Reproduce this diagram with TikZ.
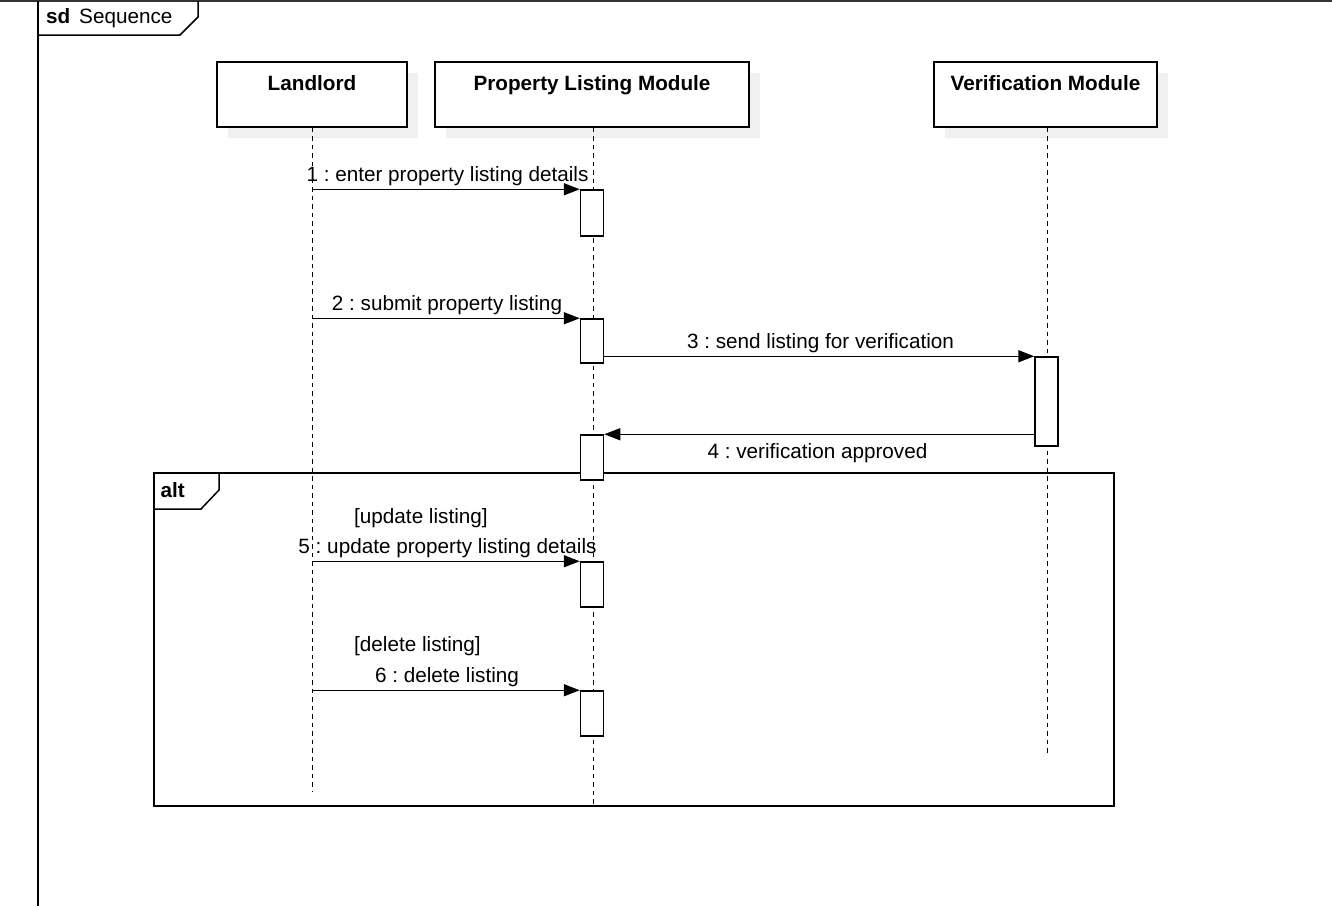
\documentclass[tikz,border=0pt]{standalone}
\usepackage{fontspec}
\setmainfont{Liberation Sans}
\usetikzlibrary{arrows.meta,shadows}
\begin{document}
\frenchspacing
\begin{tikzpicture}[x=1pt,y=-1pt,
  every node/.style={font=\fontsize{20.7}{24}\selectfont\frenchspacing},
  lifebox/.style={draw, fill=white, line width=1.5pt, inner sep=0pt, minimum height=65pt,
    drop shadow={shadow xshift=11pt, shadow yshift=-11pt, fill=black!6, opacity=1}},
  title/.style={anchor=base, inner sep=0pt, font=\fontsize{20.7}{24}\selectfont\bfseries},
  life/.style={line width=1pt, dash pattern=on 4.5pt off 4pt},
  act/.style={draw, fill=white, line width=1.5pt, inner sep=0pt, minimum width=23pt},
  msg/.style={line width=1.5pt, -{Triangle[length=16pt,width=12pt]}},
  lbl/.style={anchor=base, inner sep=0pt},
  frame/.style={line width=1.5pt}
]
\useasboundingbox (0,0) rectangle (1332,906);

% outer sd frame
\draw[line width=2pt, black!80] (0,1) -- (1332,1);
\draw[frame] (38,906) -- (38,1);
\draw[frame] (38,35) -- (180,35) -- (198,17) -- (198,1);
\node[anchor=base west, inner sep=0pt, font=\fontsize{20.7}{24}\selectfont\bfseries] (sdk) at (46,23.3) {sd};
\node[anchor=base west, inner sep=0pt] (sdn) at (79,23.3) {Sequence};

% lifeline heads
\node[lifebox, minimum width=190pt] (ll) at (312,94.5) {};
\node[lifebox, minimum width=314pt] (plm) at (592,94.5) {};
\node[lifebox, minimum width=223pt] (vm) at (1045.5,94.5) {};
\node[title] (llt) at (312,90.7) {Landlord};
\node[title] (plmt) at (592,90.7) {Property Listing Module};
\node[title] (vmt) at (1045.5,90.7) {Verification Module};

% alt frame
\node[draw, line width=1.5pt, inner sep=0pt, minimum width=960pt, minimum height=333pt, anchor=north west] (alt) at (153,472) {};
\draw[frame] (153,509) -- (201,509) -- (219,490) -- (219,472);
\node[anchor=base west, inner sep=0pt, font=\fontsize{20.7}{24}\selectfont\bfseries] (altk) at (160.5,497) {alt};

% lifelines
\coordinate (llend) at (312.5,792);
\coordinate (plmend) at (593,805);
\coordinate (vmend) at (1047,753);
\draw[life] (ll.south -| llend) -- (llend);
\draw[life] (plm.south -| plmend) -- (plmend);
\draw[life] (vm.south -| vmend) -- (vmend);

% activations
\node[act, minimum height=46pt] (p1) at (592,213) {};
\node[act, minimum height=44pt] (p2) at (592,341) {};
\node[act, minimum height=89pt] (v1) at (1046.5,401.5) {};
\node[act, minimum height=45pt] (p4) at (592,457.5) {};
\node[act, minimum height=45pt] (p5) at (592,584.5) {};
\node[act, minimum height=45pt] (p6) at (592,713.5) {};

% messages
\draw[msg] (llend |- p1.north west) -- (p1.north west);
\draw[msg] (llend |- p2.north west) -- (p2.north west);
\draw[msg] (p2.east |- v1.north west) -- (v1.north west);
\draw[msg] (v1.west |- p4.north east) -- (p4.north east);
\draw[msg] (llend |- p5.north west) -- (p5.north west);
\draw[msg] (llend |- p6.north west) -- (p6.north west);

% labels
\node[lbl] (l1) at (447.5,181.5) {1 : enter property listing details};
\node[lbl] (l2) at (447,310.5) {2 : submit property listing};
\node[lbl] (l3) at (820.5,348.5) {3 : send listing for verification};
\node[lbl] (l4) at (817.5,458) {4 : verification approved};
\node[lbl, anchor=base west] (g1) at (354,523) {[update listing]};
\node[lbl] (l5) at (447.5,553.5) {5 : update property listing details};
\node[lbl, anchor=base west] (g2) at (354,651) {[delete listing]};
\node[lbl] (l6) at (447,682.5) {6 : delete listing};
\end{tikzpicture}
\end{document}
